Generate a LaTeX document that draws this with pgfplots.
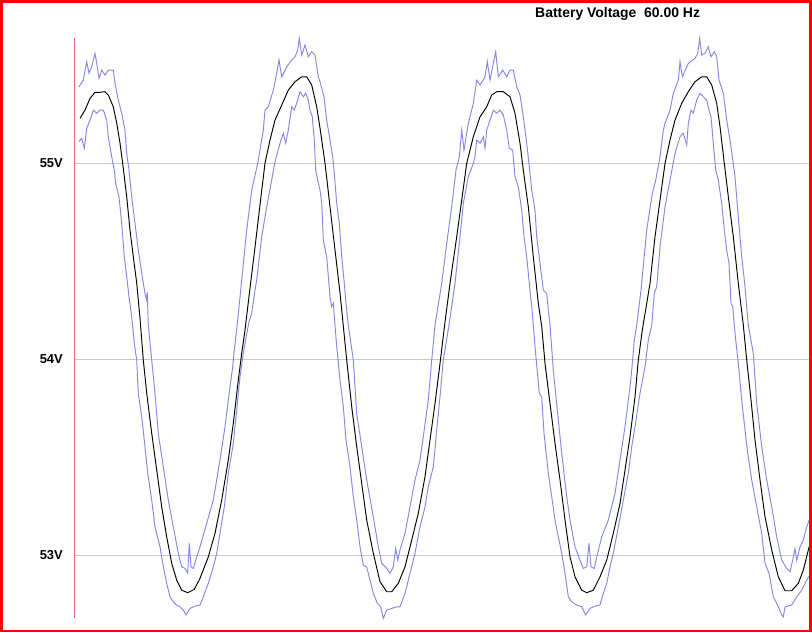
\documentclass[border=0pt]{standalone}
\usepackage{pgfplots}
\pgfplotsset{compat=1.18}
\usepackage{fontspec}
\setmainfont{Liberation Sans}
\definecolor{envblue}{RGB}{135,135,230}
\definecolor{axred}{RGB}{230,100,100}
\definecolor{gridgray}{RGB}{200,200,200}
\begin{document}
\begin{tikzpicture}[x=1bp,y=1bp]
\useasboundingbox (0,0) rectangle (812,633);
\fill[white] (0,0) rectangle (812,633);
\begin{axis}[
  at={(75bp,15bp)}, anchor=south west,
  scale only axis, width=736bp, height=580bp,
  xmin=75, xmax=811, ymin=52.679, ymax=55.638,
  hide x axis,
  axis y line=left,
  y axis line style={-, draw=none},
  ytick={53,54,55}, yticklabels={53V,54V,55V},
  major tick length=0pt,
  ymajorgrids, grid style={draw=gridgray, line width=0.9bp},
  yticklabel style={font=\fontsize{13}{15}\selectfont\bfseries, anchor=east, inner sep=0pt, xshift=-12bp},
  clip=false,
]
\addplot[envblue, line width=0.95bp] coordinates {
(79,55.389)(83.3,55.423)(86.7,55.517)(89,55.458)(91.7,55.491)(95,55.560)(96.7,55.509)(99,55.432)(101.7,55.474)(105,55.449)(108.3,55.474)(113.3,55.474)(115,55.407)(118.3,55.321)(121.7,55.254)(125,55.168)(126.7,55.049)(129,54.964)(131.7,54.828)(135,54.692)(138.3,54.556)(141.7,54.437)(145,54.335)(146.7,54.301)(147.2,54.342)(148.3,54.173)(151.7,53.995)(155,53.825)(158.3,53.621)(163.3,53.450)(168.3,53.281)(173.3,53.144)(178.3,53.009)(181.7,52.940)(185,52.932)(187.7,52.907)(189.3,53.060)(191,52.940)(193.3,52.932)(195.7,52.974)(200,53.042)(206.7,53.162)(213.3,53.281)(220,53.485)(225,53.655)(230,53.859)(232.3,53.944)(234.3,54.046)(237.2,54.173)(241.7,54.403)(246.7,54.658)(251.7,54.862)(257.7,54.998)(263.3,55.168)(265,55.270)(268.3,55.287)(273.3,55.372)(276.7,55.458)(279,55.526)(281.7,55.440)(286.7,55.491)(291.7,55.526)(295,55.542)(297.7,55.577)(299.3,55.636)(301.7,55.551)(305,55.602)(308.3,55.542)(311.7,55.568)(315,55.551)(318.3,55.440)(320,55.415)(324,55.338)(326.7,55.219)(330,55.117)(332.7,55.032)(334,54.964)(336.7,54.794)(339.3,54.692)(341.7,54.522)(344,54.403)(346,54.284)(348.3,54.173)(353.3,53.995)(356.7,53.723)(361.7,53.553)(366.7,53.383)(373.3,53.195)(378.3,53.042)(381.7,52.958)(386.7,52.932)(390,52.907)(393.3,52.940)(395.7,53.034)(397.7,52.974)(400,53.026)(405,53.111)(410,53.246)(415,53.383)(420,53.485)(423.3,53.604)(428.3,53.791)(431.7,53.995)(435,54.173)(441.7,54.386)(446.7,54.590)(451.7,54.777)(456,54.964)(459.3,55.032)(461.7,55.168)(464,55.066)(468.3,55.202)(473.3,55.305)(476.7,55.423)(480,55.398)(485,55.440)(487.3,55.517)(490,55.423)(493.3,55.509)(495.7,55.568)(498.3,55.440)(502.7,55.474)(506.7,55.440)(510,55.474)(513.3,55.474)(516.7,55.389)(520,55.347)(523.3,55.236)(526.7,55.101)(529.3,54.981)(531.7,54.862)(535,54.760)(536.7,54.624)(540,54.488)(543.3,54.352)(546.7,54.335)(548.3,54.250)(550,54.173)(553.3,53.944)(557.3,53.740)(561.7,53.519)(566.7,53.297)(570,53.179)(575,53.042)(580,52.974)(583.3,52.932)(586.7,52.940)(589,53.060)(591,52.940)(594.3,52.932)(596.7,52.991)(601.7,53.093)(608.3,53.179)(615,53.315)(620,53.485)(625,53.655)(630,53.859)(631.7,53.944)(634.3,54.097)(636.7,54.173)(641,54.352)(646.7,54.658)(652.3,54.845)(655.7,54.913)(660,55.032)(663.3,55.168)(665,55.202)(670,55.270)(673.3,55.356)(678.3,55.423)(680,55.517)(682.3,55.440)(688.3,55.509)(695,55.534)(697.7,55.560)(699.7,55.636)(701.7,55.551)(705,55.560)(708.3,55.593)(711,55.542)(714.3,55.568)(716.7,55.542)(719,55.423)(723.3,55.356)(726.7,55.219)(730,55.117)(732.3,55.032)(735,54.930)(737.7,54.760)(741.7,54.522)(745,54.369)(748.3,54.173)(753.3,54.029)(756.7,53.774)(761.7,53.553)(766.7,53.383)(771.7,53.246)(776.7,53.093)(781.7,52.974)(786.7,52.932)(790,52.915)(792.7,52.974)(795,53.034)(796.7,52.974)(800,53.042)(803.3,53.077)(806.7,53.144)(811,53.204)
};
\addplot[envblue, line width=0.95bp] coordinates {
(79,55.109)(81.7,55.126)(84.3,55.075)(86.7,55.177)(90,55.219)(93.3,55.270)(96.7,55.254)(100,55.270)(103.3,55.270)(106.7,55.219)(108.3,55.134)(111.7,55.032)(114.3,54.964)(115.7,54.896)(119,54.828)(121.7,54.692)(124.3,54.522)(126.7,54.420)(129,54.318)(131.7,54.216)(134.3,54.080)(136.7,53.995)(138.3,53.825)(141.7,53.706)(145,53.553)(147.7,53.417)(151.7,53.281)(155,53.144)(160,53.042)(163.3,52.940)(166.7,52.856)(170,52.787)(173.3,52.762)(176.7,52.745)(180,52.736)(183.3,52.719)(186,52.694)(190,52.728)(195,52.740)(200,52.745)(203.3,52.787)(208.3,52.856)(213.3,52.940)(216.7,53.009)(220,53.111)(224.3,53.246)(228.3,53.417)(233.3,53.570)(236.7,53.740)(240,53.910)(243.3,54.029)(246.7,54.131)(249,54.189)(251.7,54.233)(255,54.352)(256.7,54.403)(261.7,54.624)(266.7,54.777)(271.7,54.913)(275,55.007)(280,55.101)(283.3,55.152)(285.7,55.101)(288.3,55.168)(291.7,55.287)(294.3,55.270)(297.7,55.321)(300,55.364)(303.3,55.338)(305.7,55.356)(308.3,55.321)(310,55.270)(312.3,55.236)(314.3,55.117)(315.7,54.964)(317.7,54.913)(320,54.862)(321.7,54.796)(323.3,54.607)(326.7,54.522)(330,54.318)(331.7,54.267)(333.3,54.286)(335,54.173)(336.7,54.063)(340,53.893)(343.3,53.757)(346,53.587)(350,53.450)(353.3,53.297)(356.7,53.179)(360,53.042)(363.3,52.949)(366.7,52.940)(370,52.872)(373.3,52.805)(377.3,52.754)(380.7,52.736)(383.3,52.677)(386.7,52.719)(391.7,52.728)(396.7,52.736)(400,52.736)(405,52.805)(410,52.907)(415,53.009)(420,53.144)(425,53.246)(428.3,53.348)(433.3,53.450)(436.7,53.638)(440,53.808)(443.3,53.995)(449,54.173)(455,54.386)(460,54.624)(463.3,54.794)(468.3,54.930)(473.3,54.998)(475,55.032)(476.7,55.117)(480,55.101)(483.3,55.134)(485,55.075)(486.7,55.168)(490,55.219)(493.3,55.270)(496.7,55.254)(500,55.270)(503.3,55.245)(506.7,55.168)(509.3,55.075)(512.7,55.066)(515,54.930)(518.3,54.879)(521.7,54.760)(524,54.624)(526.7,54.522)(529.3,54.386)(531.7,54.267)(533.3,54.173)(535,54.063)(539.3,53.825)(541.7,53.808)(544,53.621)(548.3,53.417)(551.7,53.297)(555,53.179)(558.3,53.093)(561.7,53.009)(565,52.907)(568.3,52.787)(571.7,52.762)(576.7,52.745)(581.7,52.736)(585.7,52.694)(590,52.728)(595,52.740)(600,52.745)(603.3,52.805)(606.7,52.856)(610,52.940)(613.3,53.009)(618.3,53.144)(623.3,53.281)(628.3,53.417)(631.7,53.553)(635,53.655)(640,53.825)(645,53.961)(648.3,54.097)(651.7,54.173)(654.3,54.335)(656.7,54.369)(660,54.573)(665,54.777)(670,54.913)(675,55.049)(680,55.134)(683.3,55.152)(686.7,55.092)(688.3,55.202)(691,55.270)(693.3,55.254)(696.7,55.321)(700,55.356)(703.3,55.338)(706.7,55.321)(709,55.270)(711,55.236)(713.3,55.101)(715.7,54.964)(718.3,54.913)(721.7,54.794)(724.3,54.658)(726.7,54.556)(729,54.488)(731,54.284)(732.7,54.267)(734.3,54.173)(735.7,54.097)(738.3,53.978)(741.7,53.791)(745,53.638)(747.7,53.519)(751.7,53.383)(756.7,53.246)(761.7,53.111)(765,52.958)(769,52.907)(773.3,52.787)(778.3,52.736)(781.7,52.694)(783.3,52.685)(785,52.736)(791.7,52.745)(796.7,52.787)(801.7,52.821)(806.7,52.872)(811,52.907)
};
\addplot[black, line width=0.95bp] coordinates {
(80,55.228)(85,55.270)(90,55.330)(95,55.361)(100,55.361)(105,55.364)(108.3,55.347)(113.3,55.287)(116.7,55.204)(120,55.102)(122.7,54.998)(126.7,54.828)(130,54.658)(133.3,54.522)(136.7,54.388)(140,54.209)(143.3,53.995)(146.7,53.827)(151.7,53.622)(156.7,53.434)(161.7,53.246)(166.7,53.093)(171.7,52.958)(176.7,52.872)(181.7,52.821)(187.7,52.808)(194.3,52.825)(200,52.881)(208.3,52.991)(215,53.111)(221.7,53.281)(228.3,53.485)(233.3,53.672)(238.3,53.893)(241.7,54.029)(245,54.148)(250,54.362)(255,54.571)(260,54.786)(265,55.000)(270,55.117)(275,55.219)(281.7,55.296)(288.3,55.372)(295,55.415)(301.7,55.440)(306.7,55.440)(311.7,55.398)(316.7,55.287)(320,55.179)(325,55.000)(330,54.777)(335,54.556)(340,54.337)(346.7,53.995)(351.7,53.757)(356.7,53.553)(361.7,53.366)(366.7,53.179)(373.3,53.009)(380,52.864)(386.7,52.813)(391.7,52.813)(398.3,52.856)(405,52.940)(411.7,53.077)(418.3,53.213)(425,53.400)(430,53.587)(435,53.774)(440,53.978)(445,54.189)(450,54.386)(456.7,54.624)(461.7,54.811)(466.7,54.998)(473.3,55.134)(480,55.236)(486.7,55.287)(491.7,55.347)(496.7,55.364)(503.3,55.364)(510,55.338)(515,55.254)(520,55.101)(523.3,54.964)(528.3,54.777)(533.3,54.522)(538.3,54.284)(541.7,54.168)(545,53.978)(550,53.774)(555,53.570)(560,53.383)(565,53.179)(570,52.991)(575,52.889)(581.7,52.821)(586.7,52.808)(593.3,52.821)(600,52.889)(606.7,52.974)(613.3,53.111)(620,53.264)(625,53.434)(630,53.604)(635,53.808)(638.3,53.995)(642.3,54.148)(650,54.386)(655,54.624)(660,54.811)(665,54.998)(670,55.117)(675,55.219)(681.7,55.305)(688.3,55.364)(695,55.415)(701.7,55.440)(706.7,55.440)(711.7,55.398)(716.7,55.305)(720,55.185)(724.3,54.998)(728.3,54.828)(733.3,54.624)(738.3,54.386)(743.3,54.173)(746.7,53.995)(751,53.791)(755,53.587)(760,53.383)(765,53.195)(771.7,53.026)(778.3,52.889)(785,52.818)(791.7,52.818)(798.3,52.856)(803.3,52.923)(808.3,53.026)(811,53.077)
};
\end{axis}
\draw[color=axred, line width=1.2bp] (74.5,15) -- (74.5,595);
\node[anchor=base west, inner sep=0pt, font=\fontsize{14}{16}\selectfont\bfseries] at (535,615) {Battery Voltage\ \ 60.00 Hz};
\draw[red, line width=2.6bp] (1.3,1.8) rectangle (810.7,631.7);
\end{tikzpicture}
\end{document}
